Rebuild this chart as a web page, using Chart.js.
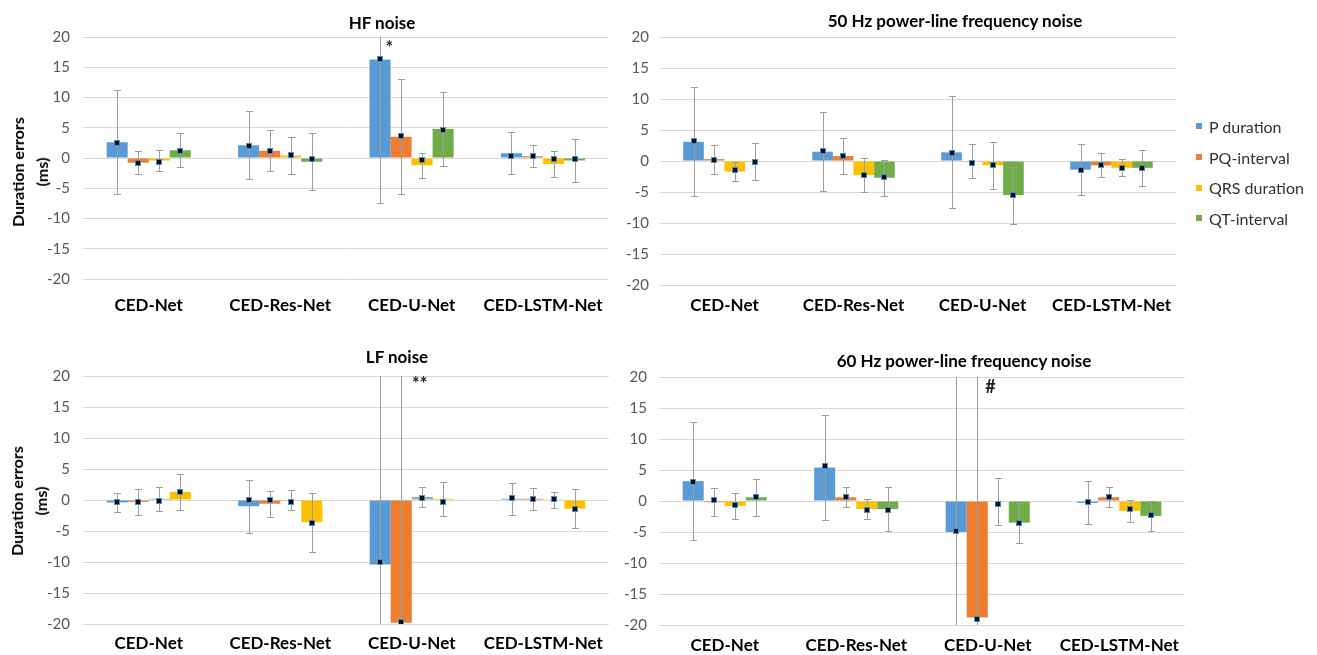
<!DOCTYPE html>
<html>
<head>
<meta charset="utf-8">
<title>Duration errors</title>
<script src="https://cdn.jsdelivr.net/npm/chart.js@4.4.1/dist/chart.umd.min.js"></script>
<style>
  body { margin: 0; background: #fff; }
  #page { position: relative; width: 1317px; height: 655px; overflow: hidden; font-family: Lato, "Open Sans", sans-serif; }
  canvas { position: absolute; }
  .title { position: absolute; transform: translate(-50%, -50%); font-weight: bold; font-size: 17px; color: #000; white-space: nowrap; }
  .ytitle { position: absolute; transform: translate(-50%, -50%) rotate(-90deg); font-weight: bold; font-size: 16px; line-height: 24px; text-align: center; white-space: nowrap; color: #000; }
  #legend { position: absolute; left: 1196px; top: 111px; font-size: 16px; color: #333; }
  #legend div { height: 30.7px; display: flex; align-items: center; }
  #legend span { display: inline-block; width: 6px; height: 6px; margin-right: 7px; }
</style>
</head>
<body>
<div id="page">
  <canvas id="hf" width="620" height="330" style="left:0;top:0"></canvas>
  <canvas id="pl50" width="697" height="330" style="left:620px;top:0"></canvas>
  <canvas id="lf" width="620" height="325" style="left:0;top:330px"></canvas>
  <canvas id="pl60" width="697" height="325" style="left:620px;top:330px"></canvas>

  <div class="title" style="left:382px;top:22px">HF noise</div>
  <div class="title" style="left:955px;top:20px">50 Hz power-line frequency noise</div>
  <div class="title" style="left:397px;top:356px">LF noise</div>
  <div class="title" style="left:964px;top:360px">60 Hz power-line frequency noise</div>

  <div class="ytitle" style="left:30px;top:172px">Duration errors<br>(ms)</div>
  <div class="ytitle" style="left:29px;top:501px">Duration errors<br>(ms)</div>

  <div id="legend"></div>
</div>

<script>
var categories = ['CED-Net', 'CED-Res-Net', 'CED-U-Net', 'CED-LSTM-Net'];
var seriesNames = ['P duration', 'PQ-interval', 'QRS duration', 'QT-interval'];
var yTicks = [-20, -15, -10, -5, 0, 5, 10, 15, 20];

// rows = P duration, PQ-interval, QRS duration, QT-interval
// bar = bar height, err = half length of the error bar, mark = square marker

// HF noise
var hfBar  = [[2.6, 2.1, 16.3, 0.8], [-0.8, 1.2, 3.5, 0.3], [-0.4, 0.4, -1.2, -1.0], [1.3, -0.6, 4.8, -0.4]];
var hfErr  = [[8.6, 5.6, 23.7, 3.45], [1.9, 3.4, 9.5, 1.85], [1.8, 3.0, 2.05, 2.2], [2.75, 4.7, 6.1, 3.6]];
var hfMark = [[2.4, 2.0, 16.4, 0.3], [-0.8, 1.2, 3.6, 0.3], [-0.6, 0.5, -0.3, -0.2], [1.2, -0.2, 4.7, -0.2]];

// 50 Hz power-line frequency noise
var pl50Bar  = [[3.1, 1.5, 1.4, -1.4], [0.3, 0.8, -0.05, -0.7], [-1.7, -2.3, -0.7, -1.1], [-0.05, -2.7, -5.5, -1.1]];
var pl50Err  = [[8.8, 6.35, 9.05, 4.15], [2.35, 2.9, 2.75, 1.95], [1.5, 2.75, 3.75, 1.35], [3.0, 2.9, 4.6, 2.95]];
var pl50Mark = [[3.3, 1.6, 1.3, -1.4], [0.2, 0.8, -0.3, -0.7], [-1.4, -2.3, -0.7, -1.2], [-0.1, -2.6, -5.5, -1.2]];

// LF noise
var lfBar  = [[-0.4, -1.0, -10.4, 0.2], [-0.3, -0.6, -19.8, 0.2], [0.2, -0.05, 0.5, 0.05], [1.3, -3.6, 0.2, -1.4]];
var lfErr  = [[1.6, 4.25, 35, 2.6], [2.1, 2.1, 45, 1.8], [1.95, 1.6, 1.6, 1.3], [2.95, 4.8, 2.75, 3.1]];
var lfMark = [[-0.4, 0.0, -10.0, 0.3], [-0.3, 0.0, -19.7, 0.1], [-0.2, -0.3, 0.4, 0.1], [1.3, -3.7, -0.3, -1.4]];

// 60 Hz power-line frequency noise
var pl60Bar  = [[3.2, 5.4, -5.0, -0.3], [-0.2, 0.6, -18.8, 0.6], [-0.8, -1.3, -0.05, -1.6], [0.6, -1.3, -3.5, -2.4]];
var pl60Err  = [[9.5, 8.5, 30, 3.45], [2.25, 1.6, 45, 1.6], [2.1, 1.6, 3.8, 1.8], [3.0, 3.5, 3.25, 2.4]];
var pl60Mark = [[3.0, 5.7, -4.9, -0.2], [0.1, 0.6, -19.1, 0.7], [-0.6, -1.4, -0.5, -1.3], [0.6, -1.4, -3.5, -2.2]];

var blue = '#5b9bd5', orange = '#ed7d31', gray = '#a5a5a5', yellow = '#ffc000', green = '#70ad47';
var mainColors = [blue, orange, yellow, green];
var lfColors = [blue, orange, gray, yellow];

Chart.defaults.font.family = 'Lato, "Open Sans", sans-serif';

// error bars, markers and the little significance notes
var extras = {
  id: 'extras',
  afterDatasetsDraw: function (chart, args, opts) {
    var ctx = chart.ctx, area = chart.chartArea, y = chart.scales.y, x = chart.scales.x;
    ctx.save();
    ctx.beginPath();
    ctx.rect(area.left, area.top, area.right - area.left, area.bottom - area.top);
    ctx.clip();

    ctx.strokeStyle = '#9d9d9d';
    ctx.lineWidth = 1;
    chart.data.datasets.forEach(function (ds, i) {
      chart.getDatasetMeta(i).data.forEach(function (bar, j) {
        var px = Math.round(bar.x) + 0.5;
        var top = Math.round(y.getPixelForValue(ds.data[j] + ds.errors[j])) + 0.5;
        var bot = Math.round(y.getPixelForValue(ds.data[j] - ds.errors[j])) + 0.5;
        ctx.beginPath();
        ctx.moveTo(px, top);
        ctx.lineTo(px, bot);
        ctx.moveTo(px - 3.5, top);
        ctx.lineTo(px + 3.5, top);
        ctx.moveTo(px - 3.5, bot);
        ctx.lineTo(px + 3.5, bot);
        ctx.stroke();
      });
    });

    chart.data.datasets.forEach(function (ds, i) {
      chart.getDatasetMeta(i).data.forEach(function (bar, j) {
        var px = Math.round(bar.x);
        var py = Math.round(y.getPixelForValue(ds.markers[j]));
        ctx.fillStyle = '#4a8bcb';
        ctx.fillRect(px - 3, py - 3, 6, 6);
        ctx.fillStyle = '#101010';
        ctx.fillRect(px - 2, py - 2, 4, 4);
      });
    });
    ctx.restore();

    (opts.notes || []).forEach(function (n) {
      ctx.save();
      ctx.font = 'bold 18px Lato, sans-serif';
      ctx.fillStyle = '#222';
      ctx.textAlign = 'center';
      ctx.textBaseline = 'middle';
      ctx.fillText(n.text, x.getPixelForValue(n.at), y.getPixelForValue(n.value));
      ctx.restore();
    });
  }
};

function makeChart(id, bars, errs, marks, colors, o) {
  var datasets = seriesNames.map(function (name, i) {
    return {
      label: name,
      data: bars[i],
      errors: errs[i],
      markers: marks[i],
      backgroundColor: colors[i],
      borderWidth: 0,
      categoryPercentage: 0.64,
      barPercentage: 1.0
    };
  });

  return new Chart(document.getElementById(id), {
    type: 'bar',
    data: { labels: categories, datasets: datasets },
    plugins: [extras],
    options: {
      responsive: false,
      animation: false,
      devicePixelRatio: 1,
      layout: { padding: { left: 0, top: o.top, right: o.right, bottom: 0 } },
      plugins: {
        legend: { display: false },
        tooltip: { enabled: false },
        extras: { notes: o.notes }
      },
      scales: {
        x: {
          grid: { display: false, drawTicks: false },
          border: { display: false },
          ticks: { color: '#000', font: { size: 17, weight: 'bold' }, padding: o.labelPad },
          afterFit: function (s) { s.height = o.xHeight; }
        },
        y: {
          min: -20,
          max: 20,
          afterBuildTicks: function (s) { s.ticks = yTicks.map(function (v) { return { value: v }; }); },
          grid: { color: '#d9d9d9', lineWidth: 1, drawTicks: false },
          border: { display: false },
          ticks: { color: '#595959', font: { size: 15 }, padding: o.tickPad },
          afterFit: function (s) { s.width = o.yWidth; }
        }
      }
    }
  });
}

makeChart('hf', hfBar, hfErr, hfMark, mainColors, {
  top: 37, right: 11, yWidth: 83, xHeight: 51, tickPad: 13, labelPad: 16,
  notes: [{ text: '*', at: 1.83, value: 18.2 }]
});
makeChart('pl50', pl50Bar, pl50Err, pl50Mark, mainColors, {
  top: 37, right: 141, yWidth: 40, xHeight: 45, tickPad: 11, labelPad: 10, notes: []
});
makeChart('lf', lfBar, lfErr, lfMark, lfColors, {
  top: 46, right: 11, yWidth: 83, xHeight: 31, tickPad: 13, labelPad: 9,
  notes: [{ text: '**', at: 2.06, value: 18.6 }]
});
makeChart('pl60', pl60Bar, pl60Err, pl60Mark, mainColors, {
  top: 47, right: 132, yWidth: 39, xHeight: 30, tickPad: 12, labelPad: 10,
  notes: [{ text: '#', at: 2.02, value: 18.3 }]
});

var legend = document.getElementById('legend');
seriesNames.forEach(function (name, i) {
  var row = document.createElement('div');
  var box = document.createElement('span');
  box.style.background = mainColors[i];
  row.appendChild(box);
  row.appendChild(document.createTextNode(name));
  legend.appendChild(row);
});
</script>
</body>
</html>
